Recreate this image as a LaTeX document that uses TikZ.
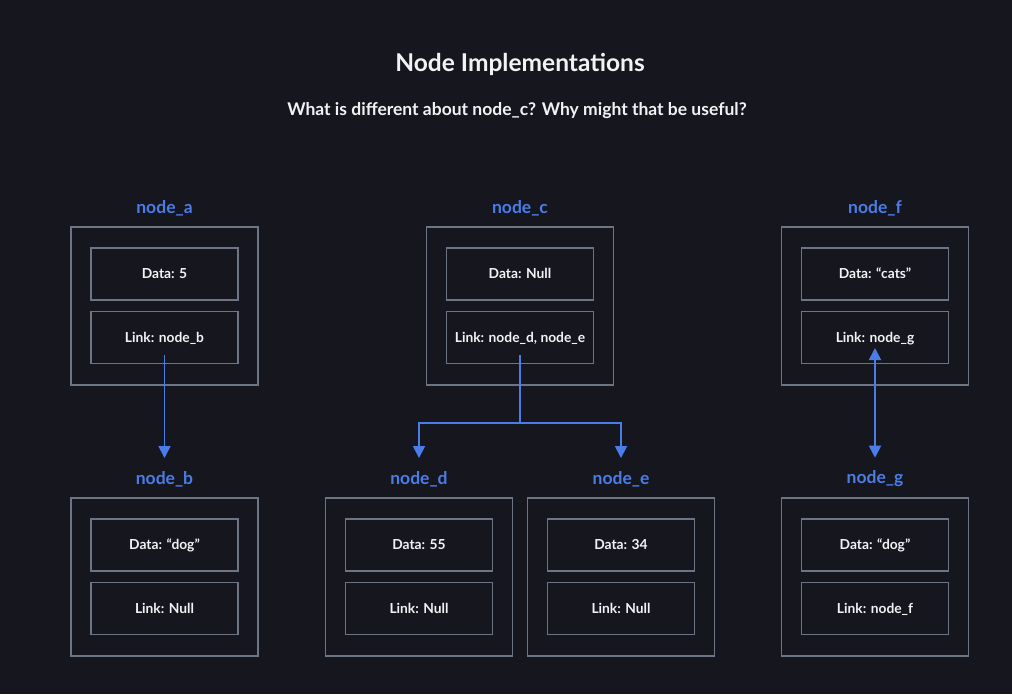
\documentclass[tikz,border=0pt]{standalone}
\usepackage{fontspec}
\setmainfont{Lato}
\usetikzlibrary{arrows.meta}
\definecolor{bgcol}{RGB}{22,22,31}
\definecolor{bordercol}{RGB}{108,116,134}
\definecolor{bluecol}{RGB}{74,125,232}
\definecolor{txtcol}{RGB}{242,242,245}
\begin{document}
\begin{tikzpicture}[x=1pt,y=-1pt,
  outerbox/.style={draw=bordercol, line width=1.8pt, minimum width=187pt, minimum height=158pt, inner sep=0pt},
  innerbox/.style={draw=bordercol, line width=1.8pt, minimum width=147pt, minimum height=52pt, inner sep=0pt, text=txtcol, font=\bfseries\fontsize{13.8}{16}\selectfont, text height=9.8pt, text depth=0.5pt},
  lab/.style={text=bluecol, font=\bfseries\fontsize{17.5}{20}\selectfont, inner sep=0pt},
  ttl/.style={text=txtcol, font=\bfseries\fontsize{24.5}{28}\selectfont},
  sub/.style={text=txtcol, font=\bfseries\fontsize{17.5}{20}\selectfont},
  wire/.style={draw=bluecol, line width=1.8pt},
  link/.style={wire, -{Triangle[width=12pt,length=12pt]}}
]
\fill[bgcol] (0,0) rectangle (1012,694);
\useasboundingbox (0,0) rectangle (1012,694);

\node[ttl] (title) at (520,64) {Node Implementations};
\node[sub] (subtitle) at (517,111) {What is different about node\_c? Why might that be useful?};

% top row
\node[lab] (alab) at (164.5,208) {node\_a};
\node[outerbox] (a) at (164.5,306) {};
\node[innerbox] (adata) at (164.5,274) {Data: 5};
\node[innerbox] (alink) at (164.5,337.5) {Link: node\_b};

\node[lab] (clab) at (520,208) {node\_c};
\node[outerbox] (c) at (520,306) {};
\node[innerbox] (cdata) at (520,274) {Data: Null};
\node[innerbox] (clink) at (520,337.5) {Link: node\_d, node\_e};

\node[lab] (flab) at (875,208) {node\_f};
\node[outerbox] (f) at (875,306) {};
\node[innerbox] (fdata) at (875,274) {Data: “cats”};
\node[innerbox] (flink) at (875,337.5) {Link: node\_g};

% bottom row
\node[lab] (blab) at (164.5,479) {node\_b};
\node[outerbox] (b) at (164.5,577) {};
\node[innerbox] (bdata) at (164.5,545) {Data: “dog”};
\node[innerbox] (blink) at (164.5,608.5) {Link: Null};

\node[lab] (dlab) at (419,479) {node\_d};
\node[outerbox] (d) at (419,577) {};
\node[innerbox] (ddata) at (419,545) {Data: 55};
\node[innerbox] (dlink) at (419,608.5) {Link: Null};

\node[lab] (elab) at (621,479) {node\_e};
\node[outerbox] (e) at (621,577) {};
\node[innerbox] (edata) at (621,545) {Data: 34};
\node[innerbox] (elink) at (621,608.5) {Link: Null};

\node[lab] (glab) at (875,479) {node\_g};
\node[outerbox] (g) at (875,577) {};
\node[innerbox] (gdata) at (875,545) {Data: “dog”};
\node[innerbox] (glink) at (875,608.5) {Link: node\_f};

% connectors
\draw[link] ([yshift=-17.5pt]alink.center) -- ([yshift=13pt]blab.north);
\coordinate (cfork) at ([yshift=-85.5pt]clink.center);
\draw[wire] ([yshift=-17.5pt]clink.center) -- (cfork);
\draw[link] (cfork) -| ([yshift=13pt]dlab.north);
\draw[link] (cfork) -| ([yshift=13pt]elab.north);
\draw[wire, {Triangle[width=12pt,length=12pt]}-{Triangle[width=12pt,length=12pt]}] ([yshift=-10.5pt]flink.center) -- ([yshift=13pt]glab.north);
\end{tikzpicture}
\end{document}
